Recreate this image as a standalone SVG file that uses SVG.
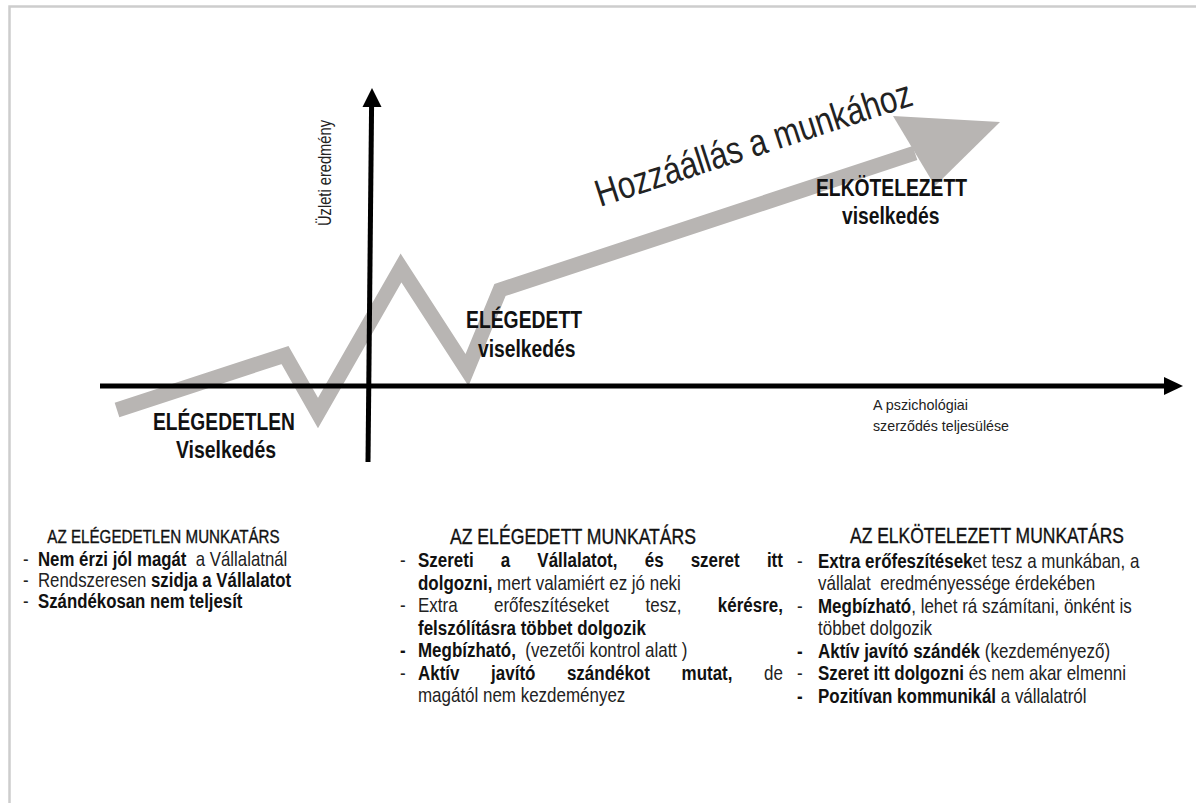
<svg xmlns="http://www.w3.org/2000/svg" width="1196" height="803" viewBox="0 0 1196 803">
<style>
text{font-family:"Liberation Sans",Arial,sans-serif;fill:#222;}
.b{font-weight:bold;fill:#111;}
.body{font-size:20.7px;white-space:pre;}
.body1{font-size:20.5px;white-space:pre;}
.head{fill:#111;stroke:#111;stroke-width:0.35;text-anchor:middle;}
.end{text-anchor:end;}
.lbl{font-size:23.5px;font-weight:bold;fill:#111;}
.axis{stroke:#000;stroke-width:5;fill:none;}
.trend{stroke:#b8b5b3;stroke-width:15;fill:none;stroke-linejoin:miter;stroke-miterlimit:10;}
</style>
<rect x="0" y="0" width="1196" height="803" fill="#fff"/>
<path d="M9.5,803 V6.5 H1196" fill="none" stroke="#cdcdcd" stroke-width="2.5"/>

<g id="connectors">
  <polyline class="trend" points="117,410 285,355 318,413 401,268 467,370 500,290 915,153"/>
  <polygon points="893,116 1000,122 935,186" fill="#b8b5b3"/>
  <line class="axis" x1="100" y1="386" x2="1166" y2="386"/>
  <polygon points="1183,386 1164,377 1164,395" fill="#000"/>
  <line class="axis" x1="368" y1="462" x2="371.6" y2="104"/>
  <polygon points="372,88 362.5,107 381.5,107" fill="#000"/>
</g>

<g id="axis-labels">
  <text transform="translate(331,226) rotate(-90)" font-size="18" textLength="106" lengthAdjust="spacingAndGlyphs">Üzleti eredmény</text>
  <text x="873" y="410" font-size="15" textLength="95" lengthAdjust="spacingAndGlyphs">A pszichológiai</text>
  <text x="873" y="431" font-size="15" textLength="136" lengthAdjust="spacingAndGlyphs">szerződés teljesülése</text>
  <text transform="translate(600,207) rotate(-18)" font-size="38" fill="#111" textLength="331" lengthAdjust="spacingAndGlyphs">Hozzáállás a munkához</text>
</g>

<g id="label-elegedetlen">
  <text class="lbl" x="153" y="430" textLength="142" lengthAdjust="spacingAndGlyphs">ELÉGEDETLEN</text>
  <text class="lbl" x="176" y="458" textLength="100" lengthAdjust="spacingAndGlyphs">Viselkedés</text>
</g>
<g id="label-elegedett">
  <text class="lbl" x="466" y="328" textLength="116" lengthAdjust="spacingAndGlyphs">ELÉGEDETT</text>
  <text class="lbl" x="478" y="357" textLength="97.5" lengthAdjust="spacingAndGlyphs">viselkedés</text>
</g>
<g id="label-elkotelezett">
  <text class="lbl" x="816" y="196" textLength="151" lengthAdjust="spacingAndGlyphs">ELKÖTELEZETT</text>
  <text class="lbl" x="842" y="224" textLength="97.5" lengthAdjust="spacingAndGlyphs">viselkedés</text>
</g>

<g id="col-elegedetlen" transform="matrix(0.82 0 0 1 23 0)">
  <text class="head" x="171.3" y="543" font-size="18.5">AZ ELÉGEDETLEN MUNKATÁRS</text>
  <text class="body1" x="0" y="566">-</text>
  <text class="body1" x="18.3" y="566"><tspan class="b">Nem érzi jól magát</tspan>  a Vállalatnál</text>
  <text class="body1" x="0" y="587">-</text>
  <text class="body1" x="18.3" y="587">Rendszeresen <tspan class="b">szidja a Vállalatot</tspan></text>
  <text class="body1" x="0" y="608">-</text>
  <text class="body1 b" x="18.3" y="608">Szándékosan nem teljesít</text>
</g>

<g id="col-elegedett" transform="matrix(0.82 0 0 1 400 0)">
  <text class="head" x="211" y="544" font-size="21.5">AZ ELÉGEDETT MUNKATÁRS</text>
  <text class="body" x="0" y="567.5">-</text>
  <text class="body b" y="567.5"><tspan x="21.95">Szereti</tspan><tspan x="123">a</tspan><tspan x="167.5">Vállalatot,</tspan><tspan x="298.5">és</tspan><tspan x="354.5">szeret</tspan></text>
  <text class="body b end" x="467" y="567.5">itt</text>
  <text class="body" x="21.95" y="590"><tspan class="b">dolgozni,</tspan> mert valamiért ez jó neki</text>
  <text class="body" x="0" y="612.5">-</text>
  <text class="body" y="612.5"><tspan x="21.95">Extra</tspan><tspan x="114.6">erőfeszítéseket</tspan><tspan x="299.5">tesz,</tspan></text>
  <text class="body b end" x="467" y="612.5">kérésre,</text>
  <text class="body b" x="21.95" y="635">felszólításra többet dolgozik</text>
  <text class="body b" x="0" y="657.5">-</text>
  <text class="body" x="21.95" y="657.5"><tspan class="b">Megbízható,</tspan>  (vezetői kontrol alatt )</text>
  <text class="body" x="0" y="680">-</text>
  <text class="body b" y="680"><tspan x="21.95">Aktív</tspan><tspan x="111.1">javító</tspan><tspan x="203.6">szándékot</tspan><tspan x="343.4">mutat,</tspan></text>
  <text class="body end" x="467" y="680">de</text>
  <text class="body" x="21.95" y="702.5">magától nem kezdeményez</text>
</g>

<g id="col-elkotelezett" transform="matrix(0.82 0 0 1 797 0)">
  <text class="head" x="231.7" y="543" font-size="21.3">AZ ELKÖTELEZETT MUNKATÁRS</text>
  <text class="body" x="0" y="568">-</text>
  <text class="body" x="25.6" y="568"><tspan class="b">Extra erőfeszítések</tspan>et tesz a munkában, a</text>
  <text class="body" x="25.6" y="590.5">vállalat  eredményessége érdekében</text>
  <text class="body" x="0" y="613">-</text>
  <text class="body" x="25.6" y="613"><tspan class="b">Megbízható</tspan>, lehet rá számítani, önként is</text>
  <text class="body" x="25.6" y="635.5">többet dolgozik</text>
  <text class="body b" x="0" y="658">-</text>
  <text class="body" x="25.6" y="658"><tspan class="b">Aktív javító szándék</tspan> (kezdeményező)</text>
  <text class="body" x="0" y="680.5">-</text>
  <text class="body" x="25.6" y="680.5"><tspan class="b">Szeret itt dolgozni</tspan> és nem akar elmenni</text>
  <text class="body b" x="0" y="703">-</text>
  <text class="body" x="25.6" y="703"><tspan class="b">Pozitívan kommunikál</tspan> a vállalatról</text>
</g>
</svg>
